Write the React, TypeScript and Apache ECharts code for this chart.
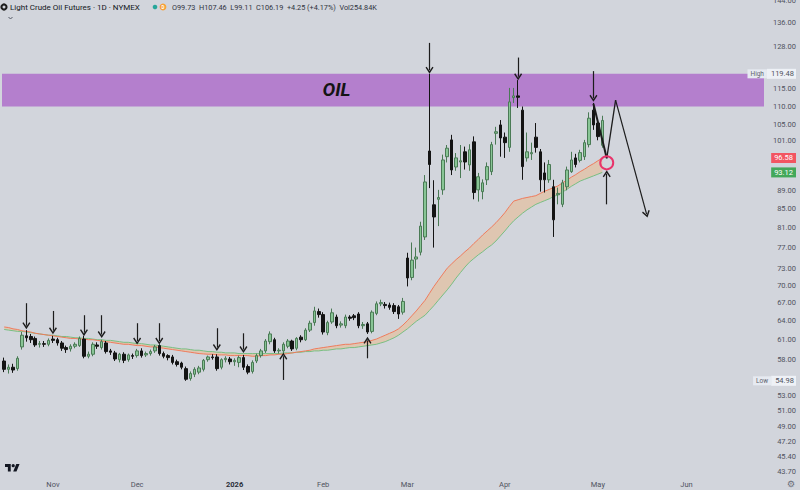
import React, { useEffect, useRef } from "react";
import * as echarts from "echarts";

// ---------- calendar ----------
const firstSession = "2025-10-17";
const marketHolidays = ["2025-11-27", "2025-12-25", "2026-01-01", "2026-01-19", "2026-02-16", "2026-04-03", "2026-05-25"];
const sessionCount = 172;
const monthLabels = ["Jan", "Feb", "Mar", "Apr", "May", "Jun", "Jul", "Aug", "Sep", "Oct", "Nov", "Dec"];

// ---------- candles [open, high, low, close] ----------
const octCandles = [
  [57.8, 58.3, 56.2, 56.6], [56.6, 57.3, 56.0, 56.9], [56.9, 57.4, 56.1, 56.5], [56.7, 58.5, 56.4, 58.2],
  [59.9, 62.2, 59.5, 61.7], [61.6, 62.5, 60.7, 61.3], [61.5, 61.9, 60.5, 61.0], [61.2, 61.5, 59.9, 60.2],
  [60.3, 60.8, 59.8, 60.4], [60.4, 60.8, 59.9, 60.3], [60.3, 61.2, 60.0, 60.9],
];
const novCandles = [
  [61.1, 61.6, 60.5, 60.9], [61.0, 61.3, 60.1, 60.5], [60.5, 60.8, 59.3, 59.7], [59.8, 60.1, 59.0, 59.5],
  [59.6, 60.3, 59.2, 60.0], [60.0, 60.6, 59.7, 60.3], [60.1, 61.5, 59.9, 61.2], [61.1, 61.6, 58.2, 58.5],
  [58.5, 59.2, 58.2, 58.8], [58.8, 60.6, 58.5, 60.3], [60.2, 60.6, 59.6, 60.0], [59.8, 61.0, 59.5, 60.7],
  [60.5, 60.8, 58.9, 59.2], [59.3, 59.6, 58.7, 59.1], [59.0, 59.3, 57.8, 58.1], [58.0, 59.0, 57.6, 58.8],
  [58.8, 59.1, 57.5, 57.9], [58.0, 58.9, 57.7, 58.7], [58.6, 58.9, 58.1, 58.5],
];
const decCandles = [
  [58.6, 59.6, 58.3, 59.3], [59.3, 59.7, 58.3, 58.6], [58.7, 59.2, 58.4, 58.9], [58.9, 59.5, 58.6, 59.2],
  [59.3, 60.2, 59.0, 59.9], [60.1, 60.3, 58.6, 58.9], [58.9, 59.2, 58.2, 58.5], [58.6, 58.8, 57.9, 58.3],
  [58.4, 58.7, 57.3, 57.6], [57.7, 58.0, 57.0, 57.3], [57.5, 57.7, 56.6, 56.9], [56.7, 57.0, 54.98, 55.2],
  [55.3, 56.3, 55.0, 56.0], [55.9, 56.9, 55.5, 56.6], [56.2, 57.1, 55.9, 56.8], [56.6, 58.1, 56.3, 57.9],
  [58.0, 58.6, 57.7, 58.4], [58.4, 58.8, 58.0, 58.3], [58.4, 58.8, 56.4, 56.7], [56.9, 58.2, 56.6, 58.0],
  [58.0, 58.5, 57.6, 58.2], [58.1, 58.4, 57.3, 57.7],
];
const janCandles = [
  [57.7, 58.2, 57.1, 57.9], [57.6, 58.6, 56.9, 58.3], [58.3, 58.7, 56.5, 56.9], [57.0, 57.3, 55.9, 56.2],
  [56.3, 57.9, 56.0, 57.6], [57.8, 58.9, 57.5, 58.6], [58.6, 59.6, 58.3, 59.3], [59.3, 61.1, 59.0, 60.8],
  [60.7, 62.3, 60.3, 61.9], [61.0, 61.3, 59.0, 59.3], [59.3, 59.7, 58.9, 59.4], [59.3, 60.6, 58.8, 60.3],
  [60.0, 61.1, 59.7, 60.8], [60.8, 61.0, 59.3, 59.6], [59.7, 61.4, 59.4, 61.2], [61.4, 61.7, 60.6, 61.0],
  [61.0, 62.8, 60.8, 62.5], [62.5, 64.0, 62.2, 63.6], [63.7, 66.3, 63.2, 65.6], [65.5, 66.0, 64.5, 65.0],
];
const febCandles = [
  [65.0, 65.4, 61.8, 62.2], [62.1, 64.0, 61.7, 63.7], [63.8, 66.0, 63.5, 65.3], [64.6, 65.0, 62.8, 63.2],
  [63.3, 63.9, 62.9, 63.5], [63.2, 65.0, 62.8, 64.6], [64.6, 64.9, 64.0, 64.4], [64.8, 65.1, 64.1, 64.5],
  [65.1, 65.4, 62.8, 63.2], [63.2, 63.8, 62.7, 63.4], [63.5, 63.8, 61.9, 62.2], [62.3, 65.7, 62.0, 65.4],
  [65.2, 67.2, 64.9, 66.8], [66.8, 67.5, 66.4, 67.0], [66.7, 67.1, 66.0, 66.5], [66.6, 67.0, 65.8, 66.2],
  [66.5, 66.9, 65.1, 65.5], [66.3, 66.6, 64.3, 65.1], [65.4, 67.8, 65.0, 67.2],
];
const marCandles = [
  [75.0, 76.0, 69.8, 71.3], [71.4, 78.0, 70.9, 74.6], [74.8, 77.0, 73.0, 75.2], [76.1, 82.2, 75.5, 81.3],
  [79.1, 92.5, 78.5, 90.9], [98.3, 119.48, 89.5, 95.0], [85.8, 91.3, 77.0, 83.2], [87.0, 89.1, 81.3, 87.4],
  [89.1, 97.4, 88.0, 96.1], [96.9, 99.8, 95.5, 99.0], [101.1, 102.4, 92.5, 93.7], [94.4, 97.8, 93.5, 96.6],
  [95.6, 99.8, 91.8, 95.9], [98.1, 99.4, 93.8, 95.6], [94.9, 100.0, 93.5, 98.6], [100.6, 102.0, 87.0, 88.5],
  [89.1, 93.0, 86.5, 92.1], [88.7, 91.5, 87.0, 90.7], [91.4, 95.5, 90.2, 94.5], [93.3, 100.6, 92.5, 99.9],
  [102.8, 104.5, 99.9, 103.2], [105.0, 106.3, 96.9, 101.6],
];
const aprCandles = [
  [101.8, 103.0, 96.6, 100.4], [99.2, 115.3, 98.1, 111.3], [112.5, 115.3, 111.0, 113.0], [113.0, 117.6, 109.6, 112.6],
  [109.0, 110.0, 91.4, 94.5], [96.6, 103.0, 95.7, 98.1], [97.6, 100.4, 96.1, 97.9], [101.8, 105.5, 97.9, 99.2],
  [98.1, 98.8, 88.7, 91.4], [93.0, 95.5, 88.5, 91.4], [91.4, 96.1, 90.7, 95.0], [89.8, 91.4, 79.1, 82.6],
  [88.0, 89.6, 85.9, 88.3], [85.9, 91.4, 85.3, 90.7], [89.8, 94.5, 89.0, 93.7], [93.3, 98.1, 93.0, 96.1],
  [96.6, 97.6, 94.3, 95.0], [96.0, 98.6, 95.5, 97.9], [96.9, 101.1, 96.1, 100.4], [99.9, 108.4, 99.2, 106.8],
  [109.0, 111.0, 103.7, 105.0],
];
const mayCandles = [
  [105.5, 106.5, 101.0, 101.94], [99.73, 107.46, 99.11, 106.19],
];

// ---------- moving averages ----------
const fastMA = [
  63.0, 62.9, 62.7, 62.6, 62.4, 62.3, 62.2, 62.0, 61.9, 61.8,
  61.7, 61.6, 61.5, 61.4, 61.3, 61.2, 61.2, 61.1, 61.1, 61.0,
  61.0, 60.9, 60.8, 60.7, 60.6, 60.5, 60.4, 60.3, 60.3, 60.2,
  60.1, 60.1, 60.0, 59.9, 59.9, 59.8, 59.7, 59.6, 59.5, 59.4,
  59.3, 59.2, 59.1, 59.0, 58.9, 58.85, 58.8, 58.8, 58.7, 58.7,
  58.7, 58.6, 58.6, 58.6, 58.6, 58.6, 58.5, 58.5, 58.6, 58.6,
  58.7, 58.7, 58.8, 58.8, 58.9, 59.0, 59.1, 59.2, 59.3, 59.4,
  59.6, 59.7, 59.8, 59.9, 60.0, 60.1, 60.2, 60.3, 60.3, 60.4,
  60.5, 60.6, 60.7, 60.9, 61.1, 61.4, 61.7, 62.0, 62.3, 62.7,
  63.3, 64.0, 64.8, 65.6, 66.5, 67.4, 68.6, 69.8, 70.9, 72.0,
  73.1, 73.9, 74.7, 75.4, 76.2, 76.9, 77.8, 78.6, 79.5, 80.3,
  81.1, 82.0, 83.0, 84.1, 85.4, 86.6, 86.9, 87.2, 87.4, 87.6,
  87.8, 88.3, 88.8, 89.2, 89.6, 90.0, 90.7, 91.3, 92.0, 92.6,
  93.3, 93.9, 94.6, 95.2, 95.9, 96.58,
];
const slowMA = [
  62.6, 62.5, 62.4, 62.3, 62.3, 62.2, 62.1, 62.0, 61.9, 61.8,
  61.7, 61.7, 61.6, 61.5, 61.5, 61.4, 61.3, 61.3, 61.2, 61.2,
  61.1, 61.0, 61.0, 60.9, 60.9, 60.8, 60.7, 60.6, 60.6, 60.5,
  60.4, 60.4, 60.3, 60.2, 60.2, 60.1, 60.0, 59.9, 59.8, 59.7,
  59.6, 59.6, 59.5, 59.4, 59.4, 59.3, 59.2, 59.2, 59.1, 59.1,
  59.0, 59.0, 59.0, 58.9, 58.9, 58.9, 58.9, 58.9, 58.9, 58.9,
  58.9, 58.9, 58.9, 59.0, 59.0, 59.0, 59.1, 59.1, 59.2, 59.2,
  59.3, 59.3, 59.4, 59.4, 59.5, 59.6, 59.6, 59.7, 59.8, 59.8,
  59.9, 60.0, 60.1, 60.2, 60.3, 60.5, 60.7, 61.0, 61.3, 61.7,
  62.2, 62.7, 63.3, 63.9, 64.4, 64.9, 65.7, 66.5, 67.4, 68.3,
  69.2, 70.2, 71.3, 72.3, 73.3, 74.2, 74.9, 75.6, 76.2, 76.9,
  77.5, 78.3, 79.3, 80.3, 81.4, 82.4, 83.2, 84.0, 84.7, 85.3,
  85.9, 86.3, 86.7, 87.1, 87.6, 88.0, 88.6, 89.2, 89.9, 90.5,
  91.1, 91.5, 91.9, 92.3, 92.7, 93.12,
];

// ---------- price scale ----------
const priceTicks = [144, 136, 128, 115, 110, 105, 101, 89, 85, 81, 77, 73, 70, 67, 64, 61, 58, 53, 51, 49, 47.2, 45.4, 43.7];
const rangeHigh = 119.48;
const rangeLow = 54.98;
const oilZone = [110, 119.48];

// ---------- annotations [fromIndex, fromPrice, toIndex, toPrice] ----------
const arrowMarks = [
  [5, 66.9, 5, 63.2], [11, 65.6, 11, 62.4], [18, 64.9, 18, 62.1], [22, 64.9, 22, 61.8],
  [30, 63.6, 30, 60.8], [35, 63.6, 35, 60.8], [48, 62.8, 48, 59.8], [54, 62.0, 54, 59.5],
  [96, 129.2, 96, 120.6], [116, 124.5, 116, 118.6], [133, 120.3, 133, 112.3],
  [63, 55.1, 63, 58.5], [82, 58.2, 82, 60.9], [136, 85.9, 136, 92.8],
  [138, 111.8, 145, 83.8],
];
const plainMarks = [
  [133, 110.8, 136, 96.6, 2],
  [136, 96.4, 138, 111.8, 1.3],
];
const circleMark = [136, 95.4];
const zoneLabel = [75, 114.9];

const BG = "#d2d5dc";
const FONT = "Roboto, 'Noto Sans', sans-serif";
const TV_PATH = "M14 22H7V11H0V4h14v18zM28 22h-8l7.5-18h8L28 22zM16 8a4 4 0 1 0 8 0a4 4 0 1 0 -8 0z";
const CHEVRON = "path://M5 0L10 7.5L8.6 8.6L5 3.2L1.4 8.6L0 7.5Z";

echarts.graphic.registerShape("tvlogo", echarts.graphic.extendPath(TV_PATH, {}));

function buildSessions(start: string, count: number, skip: string[]) {
  const out: string[] = [];
  const d = new Date(start + "T00:00:00Z");
  while (out.length < count) {
    const day = d.getUTCDay();
    const iso = d.toISOString().slice(0, 10);
    if (day !== 0 && day !== 6 && !skip.includes(iso)) out.push(iso);
    d.setUTCDate(d.getUTCDate() + 1);
  }
  return out;
}

export default function App() {
  const ref = useRef<HTMLDivElement>(null);

  useEffect(() => {
    if (!ref.current) return;
    const sessions = buildSessions(firstSession, sessionCount, marketHolidays);
    const candles = [
      ...octCandles, ...novCandles, ...decCandles, ...janCandles,
      ...febCandles, ...marCandles, ...aprCandles, ...mayCandles,
    ].map(([o, h, l, c]) => [o, c, l, h]);
    const spread = fastMA.map((v, i) => +(v - slowMA[i]).toFixed(3));
    const fastLast = fastMA[fastMA.length - 1];
    const slowLast = slowMA[slowMA.length - 1];
    const labelValues = [...priceTicks, rangeHigh, rangeLow, fastLast, slowLast].sort((a, b) => b - a);
    const isMonthStart = (i: number) => i > 0 && sessions[i].slice(0, 7) !== sessions[i - 1].slice(0, 7);
    const near = (a: number, b: number) => Math.abs(a - b) < 0.005;

    const chart = echarts.init(ref.current, null, { renderer: "svg" });
    chart.setOption({
      animation: false,
      backgroundColor: BG,
      textStyle: { fontFamily: FONT },
      grid: { left: 2, right: 36, top: 0, bottom: 14, containLabel: false, outerBoundsMode: "none" },
      xAxis: {
        type: "category",
        data: sessions,
        boundaryGap: true,
        axisLine: { show: false },
        axisTick: { show: false },
        splitLine: { show: false },
        axisLabel: {
          interval: (i: number) => isMonthStart(i),
          formatter: (v: string) => {
            const m = Number(v.slice(5, 7)) - 1;
            return m === 0 ? `{yr|${v.slice(0, 4)}}` : monthLabels[m];
          },
          color: "#50535e",
          fontSize: 7.5,
          margin: 4,
          fontFamily: FONT,
          rich: { yr: { fontWeight: "bold", fontSize: 7.5, color: "#2a2e39", fontFamily: FONT } },
        },
      },
      yAxis: {
        type: "log",
        logBase: 10,
        min: 43.22,
        max: 144,
        position: "right",
        z: 10,
        axisLine: { show: false },
        axisTick: { show: false },
        splitLine: { show: false },
        axisLabel: {
          customValues: labelValues,
          align: "right",
          margin: 32,
          color: "#50535e",
          fontSize: 7.5,
          fontFamily: FONT,
          formatter: (v: number) => {
            if (near(v, rangeHigh)) return `{tag|High}{box|${rangeHigh.toFixed(2)}}`;
            if (near(v, rangeLow)) return `{tag|Low}{box|${rangeLow.toFixed(2)}}`;
            if (near(v, fastLast)) return `{red|${fastLast.toFixed(2)}}`;
            if (near(v, slowLast)) return `{green|${slowLast.toFixed(2)}}`;
            return Number(v).toFixed(2);
          },
          rich: {
            tag: { backgroundColor: "#e6eaf1", color: "#5f636e", fontSize: 6.5, padding: [1, 3, 1, 3], fontFamily: FONT },
            box: { backgroundColor: "#eef1f6", color: "#50535e", fontSize: 7.5, padding: [1, 2, 1, 4], fontFamily: FONT },
            red: { backgroundColor: "#f25561", color: "#ffffff", fontSize: 7.5, padding: [1, 3, 1, 3], fontFamily: FONT },
            green: { backgroundColor: "#43a85a", color: "#ffffff", fontSize: 7.5, padding: [1, 3, 1, 3], fontFamily: FONT },
          },
        },
      },
      series: [
        {
          name: "slow",
          type: "line",
          data: slowMA,
          stack: "ribbon",
          stackStrategy: "all",
          symbol: "none",
          silent: true,
          z: 1,
          lineStyle: { color: "#78bf83", width: 1 },
          markArea: {
            silent: true,
            z: 0,
            itemStyle: { color: "#b47fcd" },
            data: [[{ yAxis: oilZone[0] }, { yAxis: oilZone[1] }]],
          },
        },
        {
          name: "fast",
          type: "line",
          data: spread,
          stack: "ribbon",
          stackStrategy: "all",
          symbol: "none",
          silent: true,
          z: 1,
          lineStyle: { color: "#ef7b5c", width: 1 },
          areaStyle: { color: "rgba(250,172,98,0.5)" },
          markLine: {
            silent: true,
            symbol: ["none", "none"],
            label: { show: false },
            lineStyle: { color: "#1c1c1c", type: "solid", width: 1.3 },
            data: plainMarks.map(([i0, p0, i1, p1, w]) => [
              { coord: [sessions[i0], p0], lineStyle: { width: w, color: "#1c1c1c", type: "solid" } },
              { coord: [sessions[i1], p1] },
            ]),
          },
        },
        {
          name: "CL1!",
          type: "candlestick",
          data: candles,
          barWidth: "68%",
          z: 3,
          itemStyle: {
            color: "#88c595",
            color0: "#141414",
            borderColor: "#4a7a55",
            borderColor0: "#141414",
            borderWidth: 1,
          },
          markLine: {
            silent: true,
            symbol: ["none", CHEVRON],
            symbolSize: [8, 7],
            label: { show: false },
            lineStyle: { color: "#1c1c1c", type: "solid", width: 1.2 },
            data: arrowMarks.map(([i0, p0, i1, p1]) => [
              { coord: [sessions[i0], p0] },
              { coord: [sessions[i1], p1] },
            ]),
          },
          markPoint: {
            silent: true,
            label: { show: false },
            data: [
              {
                coord: [sessions[circleMark[0]], circleMark[1]],
                symbol: "circle",
                symbolSize: 13,
                itemStyle: { color: "rgba(0,0,0,0)", borderColor: "#e8336a", borderWidth: 2 },
              },
              {
                coord: [sessions[zoneLabel[0]], zoneLabel[1]],
                symbol: "circle",
                symbolSize: 1,
                itemStyle: { color: "rgba(0,0,0,0)" },
                label: {
                  show: true,
                  position: "inside",
                  formatter: "OIL",
                  fontSize: 19,
                  fontWeight: "bold",
                  fontStyle: "italic",
                  color: "#141414",
                  fontFamily: FONT,
                },
              },
            ],
          },
        },
      ],
      graphic: [
        { type: "circle", shape: { cx: 4, cy: 7, r: 3.6 }, style: { fill: "#1e1e1e" } },
        { type: "circle", shape: { cx: 4, cy: 7, r: 1.5 }, style: { fill: "#d2d5dc" } },
        {
          type: "text", x: 10, y: 7,
          style: { text: "Light Crude Oil Futures · 1D · NYMEX", font: `8px ${FONT}`, fill: "#131722", verticalAlign: "middle" },
        },
        { type: "circle", shape: { cx: 155, cy: 7, r: 2.3 }, style: { fill: "#26a69a" } },
        { type: "circle", shape: { cx: 163, cy: 7, r: 3.4 }, style: { fill: "#f6a23a" } },
        {
          type: "text", x: 163, y: 7,
          style: { text: "D", font: `bold 4.5px ${FONT}`, fill: "#ffffff", align: "center", verticalAlign: "middle" },
        },
        {
          type: "text", x: 172, y: 7,
          style: { text: "O99.73  H107.46  L99.11  C106.19  +4.25 (+4.17%)  Vol254.84K", font: `7.3px ${FONT}`, fill: "#30343e", verticalAlign: "middle" },
        },
        { type: "polyline", shape: { points: [[8.5, 17], [10.5, 19], [12.5, 17]] }, style: { stroke: "#555a66", lineWidth: 1, fill: null } },
        { type: "tvlogo", x: 5, y: 462.4, scaleX: 0.41, scaleY: 0.41, style: { fill: "#131722" } },
        {
          type: "text", x: 791, y: 484,
          style: { text: "⚙", font: "9px 'DejaVu Sans'", fill: "#6a6e79", align: "center", verticalAlign: "middle" },
        },
      ],
    });
    return () => chart.dispose();
  }, []);

  return <div ref={ref} style={{ position: "absolute", left: 0, top: 0, width: 800, height: 490, background: BG }} />;
}
